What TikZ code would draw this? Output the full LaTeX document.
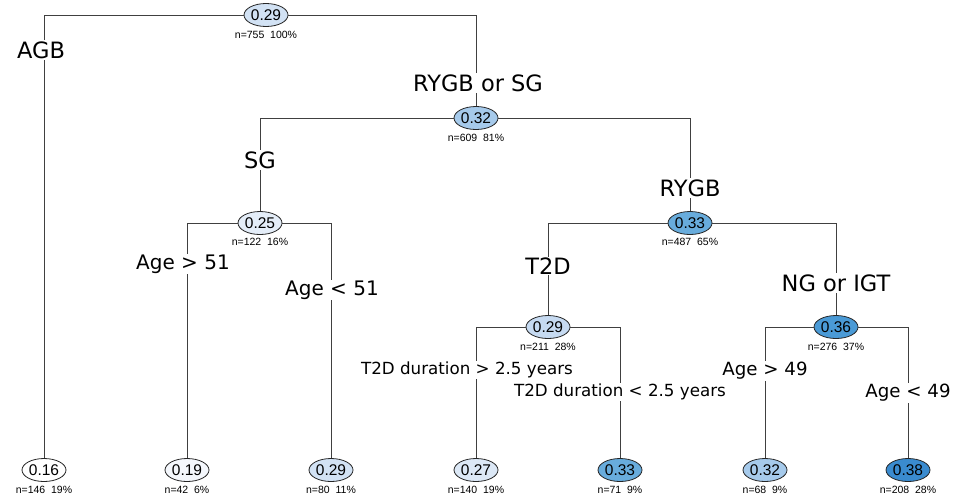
\documentclass[tikz,border=0pt]{standalone}
\usepackage{fontspec}
\setmainfont{Liberation Sans}
\newfontfamily\labfont{DejaVu Sans}
\usetikzlibrary{shapes.geometric}
\definecolor{c16}{HTML}{FFFFFF}
\definecolor{c19}{HTML}{F4F7FC}
\definecolor{c25}{HTML}{E4EDF8}
\definecolor{c27}{HTML}{DCE8F6}
\definecolor{c29}{HTML}{D2E2F4}
\definecolor{c29b}{HTML}{C6DAF1}
\definecolor{c32}{HTML}{A6CAEB}
\definecolor{c33}{HTML}{68ACDC}
\definecolor{c36}{HTML}{4A9AD6}
\definecolor{c38}{HTML}{3A8BCF}
\tikzset{
  val/.style={ellipse,draw=black!85,line width=0.8pt,minimum width=44pt,minimum height=23pt,inner sep=0pt,font=\fontsize{15.5}{16}\selectfont},
  cnt/.style={font=\fontsize{10.5}{11}\selectfont,inner sep=0pt},
  big/.style={font=\labfont\fontsize{22.5}{24}\selectfont,fill=white,inner sep=1pt},
  mid/.style={font=\labfont\fontsize{20}{22}\selectfont,fill=white,inner sep=1pt},
  agesm/.style={font=\labfont\fontsize{18.2}{20}\selectfont,fill=white,inner sep=1pt},
  small/.style={font=\labfont\fontsize{16.7}{18}\selectfont,fill=white,inner sep=1pt},
  edge/.style={draw=black!75,line width=0.8pt}
}
\begin{document}
\begin{tikzpicture}[x=1pt,y=-1pt]
\useasboundingbox (0,0) rectangle (965,499);
% nodes
\node[val,fill=c29] (n1) at (266,15) {0.29};
\node[cnt] (t1) at (266,35) {n=755\ \ 100\%};
\node[val,fill=c32] (n2) at (476,118) {0.32};
\node[cnt] (t2) at (476,138) {n=609\ \ 81\%};
\node[val,fill=c25] (n3) at (260,223) {0.25};
\node[cnt] (t3) at (260,242) {n=122\ \ 16\%};
\node[val,fill=c33] (n4) at (690,223) {0.33};
\node[cnt] (t4) at (690,242) {n=487\ \ 65\%};
\node[val,fill=c29b] (n5) at (548,327) {0.29};
\node[cnt] (t5) at (548,347) {n=211\ \ 28\%};
\node[val,fill=c36] (n6) at (836,327) {0.36};
\node[cnt] (t6) at (836,347) {n=276\ \ 37\%};
% leaves
\node[val,fill=c16] (l1) at (44,470) {0.16};
\node[cnt] (s1) at (44,490) {n=146\ \ 19\%};
\node[val,fill=c19] (l2) at (187,470) {0.19};
\node[cnt] (s2) at (187,490) {n=42\ \ 6\%};
\node[val,fill=c29] (l3) at (331,470) {0.29};
\node[cnt] (s3) at (331,490) {n=80\ \ 11\%};
\node[val,fill=c27] (l4) at (476,470) {0.27};
\node[cnt] (s4) at (476,490) {n=140\ \ 19\%};
\node[val,fill=c33] (l5) at (620,470) {0.33};
\node[cnt] (s5) at (620,490) {n=71\ \ 9\%};
\node[val,fill=c32] (l6) at (765,470) {0.32};
\node[cnt] (s6) at (765,490) {n=68\ \ 9\%};
\node[val,fill=c38] (l7) at (908,470) {0.38};
\node[cnt] (s7) at (908,490) {n=208\ \ 28\%};
% edges
\draw[edge] (n1.west) -| (l1.north);
\draw[edge] (n1.east) -| (n2.north);
\draw[edge] (n2.west) -| (n3.north);
\draw[edge] (n2.east) -| (n4.north);
\draw[edge] (n3.west) -| (l2.north);
\draw[edge] (n3.east) -| (l3.north);
\draw[edge] (n4.west) -| (n5.north);
\draw[edge] (n4.east) -| (n6.north);
\draw[edge] (n5.west) -| (l4.north);
\draw[edge] (n5.east) -| (l5.north);
\draw[edge] (n6.west) -| (l6.north);
\draw[edge] (n6.east) -| (l7.north);
% labels
\node[big] (a1) at (41,50) {AGB};
\node[big] (a2) at (478,83) {RYGB or SG};
\node[big] (a3) at (260,160) {SG};
\node[big] (a4) at (690,188) {RYGB};
\node[mid] (a5) at (183,264) {Age > 51};
\node[mid] (a6) at (332,290) {Age < 51};
\node[big] (a7) at (548,266) {T2D};
\node[big] (a8) at (836,283) {NG or IGT};
\node[small] (a9) at (467,370) {T2D duration > 2.5 years};
\node[small] (a10) at (620,392) {T2D duration < 2.5 years};
\node[agesm] (a11) at (765,371) {Age > 49};
\node[agesm] (a12) at (908,393) {Age < 49};
\end{tikzpicture}
\end{document}
